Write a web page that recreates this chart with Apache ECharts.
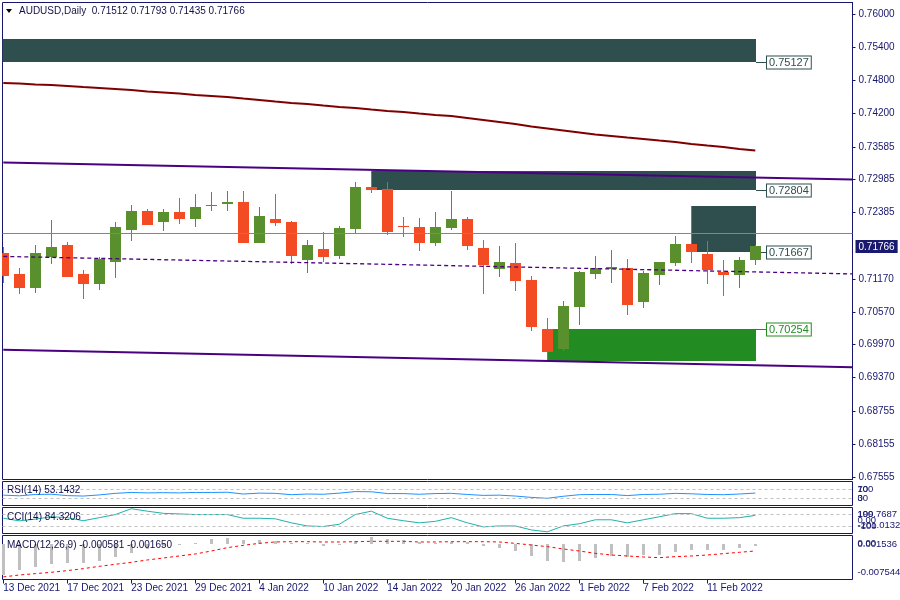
<!DOCTYPE html>
<html><head><meta charset="utf-8">
<script src="https://cdn.jsdelivr.net/npm/echarts@6/dist/echarts.min.js"></script>
<style>html,body{margin:0;padding:0;background:#fff}#c{width:900px;height:600px}</style>
</head><body><div id="c"></div>
<script>
// ---------- DATA ----------
const dates = ['13 Dec 2021','14 Dec 2021','15 Dec 2021','16 Dec 2021','17 Dec 2021','20 Dec 2021','21 Dec 2021','22 Dec 2021','23 Dec 2021','24 Dec 2021','27 Dec 2021','28 Dec 2021','29 Dec 2021','30 Dec 2021','31 Dec 2021','3 Jan 2022','4 Jan 2022','5 Jan 2022','6 Jan 2022','7 Jan 2022','10 Jan 2022','11 Jan 2022','12 Jan 2022','13 Jan 2022','14 Jan 2022','17 Jan 2022','18 Jan 2022','19 Jan 2022','20 Jan 2022','21 Jan 2022','24 Jan 2022','25 Jan 2022','26 Jan 2022','27 Jan 2022','28 Jan 2022','31 Jan 2022','1 Feb 2022','2 Feb 2022','3 Feb 2022','4 Feb 2022','7 Feb 2022','8 Feb 2022','9 Feb 2022','10 Feb 2022','11 Feb 2022','14 Feb 2022','15 Feb 2022','16 Feb 2022'];
const opens  = [0.71644,0.71261,0.71010,0.71571,0.71791,0.71261,0.71083,0.71486,0.72070,0.72412,0.72217,0.72394,0.72271,0.72509,0.72546,0.72577,0.71833,0.72266,0.72211,0.71522,0.71718,0.71595,0.72089,0.72851,0.72814,0.72138,0.72120,0.71833,0.72107,0.72266,0.71736,0.71357,0.71462,0.71151,0.70256,0.69890,0.70663,0.71266,0.71357,0.71370,0.70754,0.71248,0.71467,0.71809,0.71626,0.71297,0.71248,0.71512];
const highs  = [0.71764,0.71370,0.71791,0.72248,0.71845,0.71334,0.71566,0.72211,0.72522,0.72449,0.72449,0.72650,0.72723,0.72759,0.72778,0.72778,0.72485,0.72723,0.72229,0.71882,0.72028,0.72138,0.72942,0.73143,0.72942,0.72302,0.72284,0.72394,0.72778,0.72302,0.71882,0.71767,0.71827,0.71224,0.70462,0.70767,0.71321,0.71590,0.71700,0.71535,0.71316,0.71490,0.71955,0.72503,0.71864,0.71517,0.71571,0.71793];
const lows   = [0.71101,0.70900,0.70919,0.71449,0.71205,0.70809,0.70974,0.71193,0.71869,0.72160,0.72047,0.72180,0.72125,0.72418,0.72418,0.71827,0.71827,0.72143,0.71449,0.71284,0.71486,0.71540,0.71997,0.72736,0.71979,0.71942,0.71687,0.71773,0.72065,0.71705,0.70900,0.71211,0.70955,0.70225,0.69676,0.69859,0.70334,0.71175,0.71101,0.70517,0.70645,0.71065,0.71412,0.71467,0.71083,0.70864,0.71010,0.71435];
const closes = [0.71224,0.71010,0.71644,0.71754,0.71211,0.71083,0.71535,0.72120,0.72412,0.72162,0.72394,0.72271,0.72485,0.72527,0.72577,0.71833,0.72321,0.72198,0.71595,0.71791,0.71577,0.72101,0.72851,0.72801,0.72034,0.72129,0.71833,0.72120,0.72266,0.71778,0.71431,0.71480,0.71138,0.70298,0.69841,0.70676,0.71297,0.71370,0.71389,0.70699,0.71279,0.71480,0.71809,0.71668,0.71339,0.71248,0.71517,0.71766];
const maValues = [0.74752,0.74742,0.74724,0.74715,0.74697,0.74678,0.74660,0.74642,0.74624,0.74596,0.74578,0.74560,0.74532,0.74514,0.74496,0.74468,0.74441,0.74413,0.74386,0.74368,0.74340,0.74313,0.74295,0.74267,0.74240,0.74222,0.74194,0.74167,0.74148,0.74112,0.74075,0.74039,0.74002,0.73957,0.73920,0.73883,0.73847,0.73810,0.73783,0.73755,0.73728,0.73700,0.73673,0.73637,0.73609,0.73582,0.73545,0.73518];
// straight lines: [x(bar index), price] end points
const upperChannel = [[0,0.73298],[53.075,0.72988]];
const lowerChannel = [[0,0.69880],[53.075,0.69557]];
const midDashed    = [[0,0.71584],[53.075,0.71264]];
const lastClose = 0.71766;
// zones
const zoneStart  = [-3, 23, 43, 34];
const zoneEnd    = [47, 47, 47, 47];
const zoneTop    = [0.75556, 0.73143, 0.72503, 0.70254];
const zoneBottom = [0.75127, 0.72804, 0.71667, 0.69676];
const zoneLabel  = [0.75127, 0.72804, 0.71667, 0.70254];
// price axis tick labels
const priceTicks = [0.76000,0.75400,0.74800,0.74200,0.73585,0.72985,0.72385,0.71170,0.70570,0.69970,0.69370,0.68755,0.68155,0.67555];
// date tick label positions (bar indices)
const dateTickIdx = [0,4,8,12,16,20,24,28,32,36,40,44];
// indicators
const rsi = [44,41,47,48,42,40,45,52,56,54,55,54,56,56,57,49,53,52,46,49,48,53,60,59,51,51,48,51,52,47,43,44,40,34,30,39,46,47,47,42,47,48,52,50,47,46,49,53.1432];
const rsiLevels = [70,30];
const rsiScale = [100,0];
const cci = [35,-10,19,61,45,-8,45,99,199.7687,158,120,110,99,99,99,35,35,25,-45,-99,-109,-70,99,158,35,-8,-45,-19,45,-45,-115,-99,-99,-168,-201.0132,-99,-61,8,8,-45,8,61,115,115,35,35,45,84.3206];
const cciLevels = [100,0,-100];
const cciScale = [199.7687,-201.0132];
const macdHist = [-0.00711,-0.00597,-0.00521,-0.00468,-0.00431,-0.00431,-0.00385,-0.00294,-0.00204,-0.00120,-0.00045,-0.00014,0.00008,0.00107,0.00122,0.00084,0.00084,0.00069,0.00008,0.00008,-0.00045,-0.00014,0.00061,0.001536,0.00107,0.00084,0.00046,0.00023,0.00046,0.00046,-0.00045,-0.00090,-0.00166,-0.00272,-0.00393,-0.00423,-0.00393,-0.00332,-0.00272,-0.00294,-0.00257,-0.00257,-0.00181,-0.00143,-0.00143,-0.00143,-0.00105,-0.000581];
const macdSignal = [-0.007544,-0.00711,-0.00680,-0.00650,-0.00612,-0.00567,-0.00514,-0.00468,-0.00423,-0.00370,-0.00325,-0.00279,-0.00234,-0.00166,-0.00090,-0.00037,0.00008,0.00039,0.00046,0.00046,0.00039,0.00039,0.00046,0.00054,0.00054,0.00054,0.00039,0.00039,0.00046,0.00046,0.00046,0.00039,0.00008,-0.00030,-0.00067,-0.00120,-0.00166,-0.00219,-0.00257,-0.00279,-0.00302,-0.00317,-0.00294,-0.00279,-0.00257,-0.00226,-0.00196,-0.00165];
const macdLevels = [0];
const macdScale = [0.001536,-0.007544];

// ---------- STYLE ----------
const FONT = '"Liberation Sans", Arial, sans-serif';
const FS = 10;
const FS_IND = 9.5;
const NAVY = '#16166e';
const TXT = '#10104a';
const BULL = '#5a8f2e', BEAR = '#f34b24';
const ZONE_COLORS = ['#2f4f4f','#2f4f4f','#2f4f4f','#228b22'];
const XMIN = -0.05, XMAX = 53.075;
const L = 2.5, W = 850;

const chart = echarts.init(document.getElementById('c'));

function renderCandle(params, api){
  const k = api.value(0), o = api.value(1), c = api.value(2), lo = api.value(3), hi = api.value(4);
  const pO = api.coord([k,o]), pC = api.coord([k,c]), pL = api.coord([k,lo]), pH = api.coord([k,hi]);
  const col = c >= o ? BULL : BEAR;
  const x = Math.round(pO[0]);
  const top = Math.round(Math.min(pO[1],pC[1])), bot = Math.round(Math.max(pO[1],pC[1]));
  return {type:'group', children:[
    {type:'line', shape:{x1:x+0.5,y1:Math.round(pH[1]),x2:x+0.5,y2:Math.round(pL[1])}, style:{stroke:col,lineWidth:1}},
    {type:'rect', shape:{x:x-5, y:top, width:11, height:Math.max(1,bot-top)}, style:{fill:col}}
  ]};
}
function renderZone(params, api){
  const i = params.dataIndex;
  const cs = params.coordSys;
  const p1 = api.coord([api.value(0), api.value(2)]);
  const p2 = api.coord([api.value(1), api.value(3)]);
  const pl = api.coord([api.value(1), api.value(4)]);
  const col = ZONE_COLORS[i];
  const x1 = Math.max(Math.round(p1[0]), cs.x);
  const x2 = Math.round(p2[0]) + 1;
  const ly = Math.round(pl[1]);
  return {type:'group', children:[
    {type:'rect', shape:{x:x1, y:Math.round(p1[1]), width:x2-x1, height:Math.round(p2[1])-Math.round(p1[1])}, style:{fill:col}},
    {type:'line', shape:{x1:x2, y1:ly+0.5, x2:x2+11, y2:ly+0.5}, style:{stroke:col,lineWidth:1}},
    {type:'text', x:x2+11, y:ly+0.5, style:{text:api.value(4).toFixed(5), fill:col, font:'11px '+FONT, verticalAlign:'middle', align:'left', backgroundColor:'#fff', borderColor:col, borderWidth:1, padding:[1,2,0,2]}}
  ]};
}
function renderHist(params, api){
  const p0 = api.coord([api.value(0), 0]);
  const p1 = api.coord([api.value(0), api.value(1)]);
  const x = Math.round(p0[0]) - 1;
  const y0 = Math.round(p0[1]), y1 = Math.round(p1[1]);
  return {type:'rect', shape:{x:x, y:Math.min(y0,y1), width:3, height:Math.max(1,Math.abs(y1-y0))}, style:{fill:'#c0c0c0'}};
}
function near(a,b){return Math.abs(a-b) < 1e-7;}
const richBase = {color:NAVY, fontSize:FS, fontFamily:FONT};
const richInd = {color:NAVY, fontSize:FS_IND, fontFamily:FONT};

const grids = [
  {left:L, top:2.5, width:W, height:477},
  {left:L, top:481.5, width:W, height:24},
  {left:L, top:507.5, width:W, height:26},
  {left:L, top:535.5, width:W, height:44}
].map(g => Object.assign(g, {show:true, borderColor:NAVY, borderWidth:1, backgroundColor:'transparent', containLabel:false, outerBoundsMode:'none'}));

const xAxes = [0,1,2,3].map(i => ({
  gridIndex:i, type:'value', min:XMIN, max:XMAX, show: i === 3,
  splitLine:{show:false}, axisLine:{show:false, onZero:false},
  axisTick: i === 3 ? {show:true, customValues:dateTickIdx, length:4, lineStyle:{color:NAVY}} : {show:false},
  axisLabel: i === 3 ? {show:true, customValues:dateTickIdx, align:'left', margin:4, color:NAVY, fontSize:FS, fontFamily:FONT, hideOverlap:false,
    formatter: v => dates[Math.round(v)]} : {show:false}
}));

const yAxes = [
  {gridIndex:0, type:'value', position:'right', min:0.67508, max:0.76223,
   splitLine:{show:false}, axisLine:{show:true, onZero:false, lineStyle:{color:NAVY}},
   axisTick:{show:true, customValues:priceTicks, length:3, lineStyle:{color:NAVY}},
   axisLabel:{show:true, customValues:priceTicks.concat([lastClose]), margin:3, hideOverlap:false,
     formatter: v => near(v,lastClose) ? '{cur|'+v.toFixed(5)+'}' : '{n|'+v.toFixed(5)+'}',
     rich:{n:Object.assign({padding:[0,0,0,3]},richBase), cur:{color:'#fff', backgroundColor:'#191970', fontSize:FS, fontFamily:FONT, padding:[2,3,1,3]}}}}
];
// indicator panels: one primary (hidden) axis + one axis per label so overlapping labels are all kept
function addPanel(grid, min, max, labels){
  const primary = yAxes.length;
  yAxes.push({gridIndex:grid, type:'value', position:'right', min:min, max:max, show:false,
    splitLine:{show:false}, axisLine:{show:false, onZero:false}});
  labels.forEach(lb => {
    yAxes.push({gridIndex:grid, type:'value', position:'right', min:min, max:max,
      splitLine:{show:false}, axisLine:{show:false, onZero:false}, axisTick:{show:false},
      axisLabel:{show:true, customValues:[lb.v], margin:5, hideOverlap:false,
        formatter: () => '{s|'+lb.t+'}',
        rich:{s:Object.assign({padding:[lb.pt||0,0,lb.pb||0,0]},richInd)}}});
  });
  return primary;
}
const rsiAxis = addPanel(1, -2, 104.67, [
  {v:rsiScale[0], t:String(rsiScale[0]), pt:13}, {v:rsiLevels[0], t:String(rsiLevels[0])},
  {v:rsiLevels[1], t:String(rsiLevels[1])}, {v:rsiScale[1], t:String(rsiScale[1]), pb:13}]);
const cciAxis = addPanel(2, -230.3, 221.7, [
  {v:cciScale[0], t:cciScale[0].toFixed(4), pt:11}, {v:cciLevels[0], t:String(cciLevels[0])},
  {v:cciLevels[1], t:cciLevels[1].toFixed(2)}, {v:cciLevels[2], t:String(cciLevels[2])},
  {v:cciScale[1], t:cciScale[1].toFixed(4), pb:12}]);
const macdAxis = addPanel(3, -0.008135, 0.001863, [
  {v:macdScale[0], t:macdScale[0].toFixed(6), pt:14}, {v:macdLevels[0], t:macdLevels[0].toFixed(2)},
  {v:macdScale[1], t:macdScale[1].toFixed(6), pb:9}]);

const idx = dates.map((d,i)=>i);
const dashLevel = {silent:true, symbol:'none', label:{show:false}, lineStyle:{color:'#c0c0c0', type:[3,3], width:1}};

const option = {
  animation:false,
  backgroundColor:'#fff',
  grid:grids, xAxis:xAxes, yAxis:yAxes,
  graphic:[
    {type:'polygon', shape:{points:[[6,9],[12,9],[9,13]]}, style:{fill:'#000'}},
    {type:'text', x:19, y:11, style:{text:'AUDUSD,Daily  0.71512 0.71793 0.71435 0.71766', font:FS+'px '+FONT, fill:TXT, verticalAlign:'middle'}},
    {type:'text', x:7, y:490.5, z:10, style:{text:'RSI(14) 53.1432', font:FS+'px '+FONT, fill:TXT, verticalAlign:'middle'}},
    {type:'text', x:7, y:517, z:10, style:{text:'CCI(14) 84.3206', font:FS+'px '+FONT, fill:TXT, verticalAlign:'middle'}},
    {type:'text', x:7, y:545, z:10, style:{text:'MACD(12,26,9) -0.000581 -0.001650', font:FS+'px '+FONT, fill:TXT, verticalAlign:'middle'}}
  ],
  series:[
    {type:'custom', name:'zones', xAxisIndex:0, yAxisIndex:0, clip:true, z:1, renderItem:renderZone,
     data: zoneStart.map((s,i)=>[s, zoneEnd[i], zoneTop[i], zoneBottom[i], zoneLabel[i]])},
    {type:'custom', name:'candles', xAxisIndex:0, yAxisIndex:0, clip:true, z:3, renderItem:renderCandle,
     data: idx.map(i=>[i, opens[i], closes[i], lows[i], highs[i]])},
    {type:'line', name:'MA', xAxisIndex:0, yAxisIndex:0, z:4, showSymbol:false, symbol:'none',
     lineStyle:{color:'#800000', width:2}, data: idx.map(i=>[i, maValues[i]]),
     markLine:{silent:true, symbol:'none', label:{show:false}, lineStyle:{color:'#778899', type:'solid', width:1}, data:[{yAxis:lastClose}]}},
    {type:'line', name:'upper', xAxisIndex:0, yAxisIndex:0, z:4, showSymbol:false, symbol:'none', clip:true,
     lineStyle:{color:'#4b0082', width:2}, data: upperChannel},
    {type:'line', name:'lower', xAxisIndex:0, yAxisIndex:0, z:4, showSymbol:false, symbol:'none', clip:true,
     lineStyle:{color:'#4b0082', width:2}, data: lowerChannel},
    {type:'line', name:'mid', xAxisIndex:0, yAxisIndex:0, z:4, showSymbol:false, symbol:'none', clip:true,
     lineStyle:{color:'#4b0082', width:1.3, type:[4,3]}, data: midDashed},
    {type:'line', name:'RSI', xAxisIndex:1, yAxisIndex:rsiAxis, showSymbol:false, symbol:'none',
     lineStyle:{color:'#1e90ff', width:1}, data: idx.map(i=>[i, rsi[i]]),
     markLine:Object.assign({data:rsiLevels.map(v=>({yAxis:v}))}, dashLevel)},
    {type:'line', name:'CCI', xAxisIndex:2, yAxisIndex:cciAxis, showSymbol:false, symbol:'none',
     lineStyle:{color:'#20b2aa', width:1}, data: idx.map(i=>[i, cci[i]]),
     markLine:Object.assign({data:[{yAxis:cciLevels[0]},{yAxis:cciLevels[2]}]}, dashLevel)},
    {type:'custom', name:'MACD', xAxisIndex:3, yAxisIndex:macdAxis, clip:true, renderItem:renderHist,
     data: idx.map(i=>[i, macdHist[i]])},
    {type:'line', name:'Signal', xAxisIndex:3, yAxisIndex:macdAxis, showSymbol:false, symbol:'none', z:4,
     lineStyle:{color:'#ff0000', width:1, type:[3,3]}, data: idx.map(i=>[i, macdSignal[i]])}
  ]
};
chart.setOption(option);
</script>
</body></html>
